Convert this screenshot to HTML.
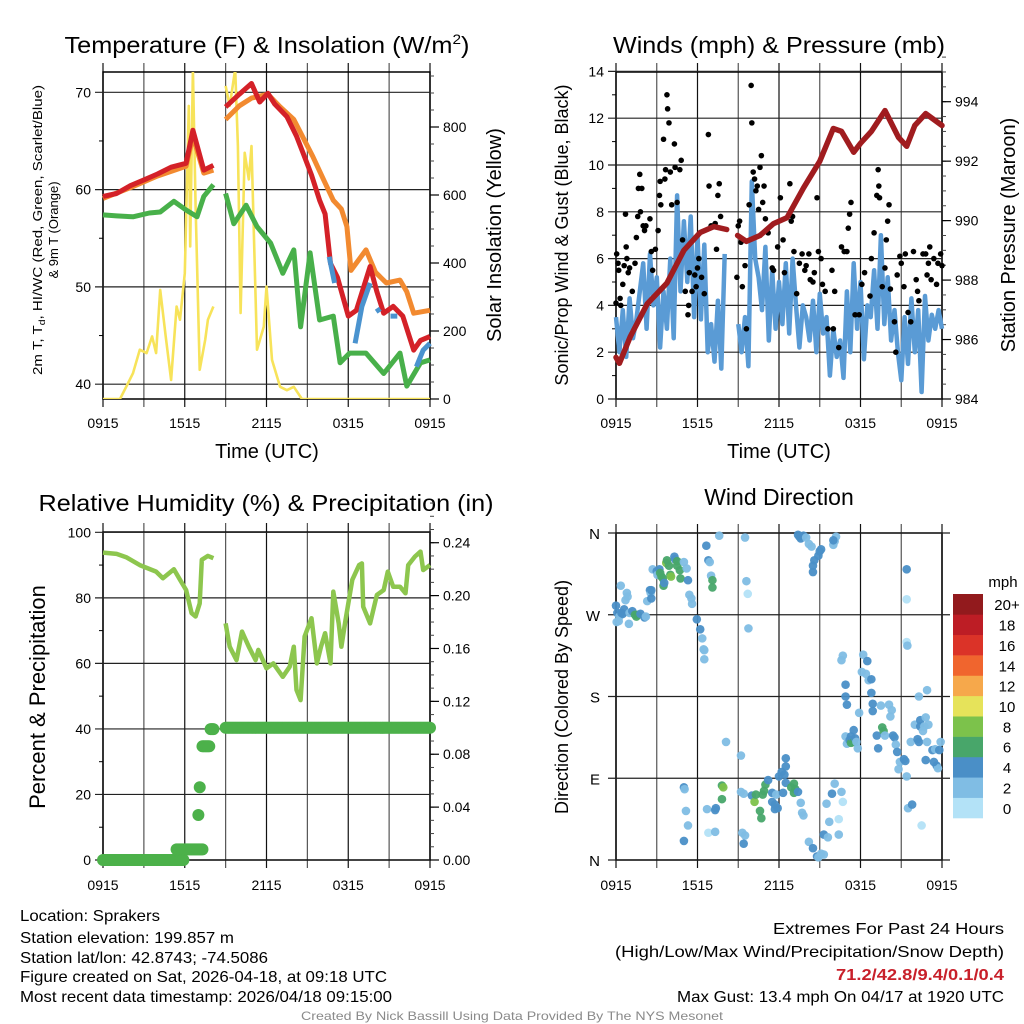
<!DOCTYPE html>
<html><head><meta charset="utf-8"><style>
html,body{margin:0;padding:0;background:#fff;}
svg{display:block;font-family:"Liberation Sans",sans-serif;}
</style></head><body>
<svg id="chart" width="1024" height="1024" viewBox="0 0 1024 1024" xmlns="http://www.w3.org/2000/svg">
<rect x="0" y="0" width="1024" height="1024" fill="#fff"/>
<g id="texts" font-family="Liberation Sans, sans-serif" fill="#000">
<text x="267" y="53" font-size="23" text-anchor="middle" textLength="405" lengthAdjust="spacingAndGlyphs">Temperature (F) &amp; Insolation (W/m<tspan font-size="14" dy="-9">2</tspan><tspan dy="9">)</tspan></text>
<text x="779" y="53" font-size="23" text-anchor="middle" textLength="332" lengthAdjust="spacingAndGlyphs">Winds (mph) &amp; Pressure (mb)</text>
<text x="266" y="511" font-size="23" text-anchor="middle" textLength="455" lengthAdjust="spacingAndGlyphs">Relative Humidity (%) &amp; Precipitation (in)</text>
<text x="779" y="505" font-size="23" text-anchor="middle">Wind Direction</text>
<text x="267" y="458" font-size="20" text-anchor="middle">Time (UTC)</text>
<text x="779" y="458" font-size="20" text-anchor="middle">Time (UTC)</text>
<text transform="translate(42,230) rotate(-90)" font-size="13" text-anchor="middle" textLength="290" lengthAdjust="spacingAndGlyphs">2m T, T<tspan font-size="9" dy="3">d</tspan><tspan dy="-3">, HI/WC (Red, Green, Scarlet/Blue)</tspan></text>
<text transform="translate(58,230) rotate(-90)" font-size="13" text-anchor="middle">&amp; 9m T (Orange)</text>
<text transform="translate(501,235) rotate(-90)" font-size="20" text-anchor="middle">Solar Insolation (Yellow)</text>
<text transform="translate(568,235) rotate(-90)" font-size="18" text-anchor="middle">Sonic/Prop Wind &amp; Gust (Blue, Black)</text>
<text transform="translate(1015,235) rotate(-90)" font-size="20" text-anchor="middle">Station Pressure (Maroon)</text>
<text transform="translate(45,697) rotate(-90)" font-size="22" text-anchor="middle">Percent &amp; Precipitation</text>
<text transform="translate(568,697) rotate(-90)" font-size="18" text-anchor="middle">Direction (Colored By Speed)</text>
<text x="20" y="921" font-size="16" textLength="140" lengthAdjust="spacingAndGlyphs">Location: Sprakers</text>
<text x="20" y="943" font-size="16" textLength="214" lengthAdjust="spacingAndGlyphs">Station elevation: 199.857 m</text>
<text x="20" y="963" font-size="16" textLength="248" lengthAdjust="spacingAndGlyphs">Station lat/lon: 42.8743; -74.5086</text>
<text x="20" y="982" font-size="16" textLength="367" lengthAdjust="spacingAndGlyphs">Figure created on Sat, 2026-04-18, at 09:18 UTC</text>
<text x="20" y="1002" font-size="16" textLength="372" lengthAdjust="spacingAndGlyphs">Most recent data timestamp: 2026/04/18 09:15:00</text>
<text x="1004" y="934" font-size="16" text-anchor="end" textLength="231" lengthAdjust="spacingAndGlyphs">Extremes For Past 24 Hours</text>
<text x="1004" y="957" font-size="16" text-anchor="end" textLength="389" lengthAdjust="spacingAndGlyphs">(High/Low/Max Wind/Precipitation/Snow Depth)</text>
<text x="1004" y="980" font-size="16" font-weight="bold" fill="#c8202a" text-anchor="end" textLength="168" lengthAdjust="spacingAndGlyphs">71.2/42.8/9.4/0.1/0.4</text>
<text x="1004" y="1002" font-size="16" text-anchor="end" textLength="327" lengthAdjust="spacingAndGlyphs">Max Gust: 13.4 mph On 04/17 at 1920 UTC</text>
<text x="512" y="1020" font-size="12" fill="#8a8a8a" text-anchor="middle" textLength="422" lengthAdjust="spacingAndGlyphs">Created By Nick Bassill Using Data Provided By The NYS Mesonet</text>
</g>
</svg>
<script>
// ---------- Panel 1 data: temperature / insolation ----------
const tempTimes = [0,1,2,3,4,5,6.1,6.6,7.4,8.1,null,9.0,10.0,10.9,11.5,12.1,12.6,13.5,14.2,14.7,15.3,15.9,16.3,16.7,17.2,18.0,18.6,19.6,20.1,20.6,21.3,22.0,22.8,23.3,24];
const tempValues = [59.3,59.6,60.4,61.0,61.6,62.3,62.7,66.1,62.0,62.5,null,68.5,69.8,70.9,69.0,69.9,68.8,67.5,65.5,63.7,61.5,58.9,57.5,52.4,51.0,47.0,47.6,52.1,49.5,47.3,48.0,47.0,43.5,44.5,44.9];
const nineMTimes = [0,2,4,6.1,6.6,7.4,8.1,null,9.0,10.0,10.9,12.1,13.0,14.0,15.4,16.2,16.9,17.5,17.9,18.2,19.3,20.0,20.8,21.8,22.3,22.8,24];
const nineMValues = [59.1,60.2,61.4,62.4,65.5,61.7,62.0,null,67.2,68.6,69.4,69.8,68.5,67.2,63.4,61.0,58.9,58.0,56.2,51.7,53.8,51.5,50.4,50.7,49.5,47.3,47.6];
const dewTimes = [0,1,2.2,3.4,4.2,5.2,6.1,6.9,7.4,8.1,null,9.0,9.6,10.5,11.3,12.3,13.2,14.0,14.5,15.2,15.9,16.9,17.4,18.1,19.3,20.6,21.8,22.3,23.3,24];
const dewValues = [57.4,57.3,57.2,57.6,57.7,58.8,57.9,57.2,59.3,60.5,null,59.6,56.5,58.4,56.2,54.5,51.4,53.8,45.9,53.5,46.6,47.0,42.2,43.2,43.2,41.1,43.2,39.8,42.2,42.5];
const hiwcTimes = [16.6,17.0,null,18.5,19.0,19.6,null,20.1,20.3,null,21.1,21.6,null,23.0,23.5,24];
const hiwcValues = [53.1,50.4,null,44.2,48.0,50.4,null,47.8,47.4,null,47.0,47.0,null,41.8,43.5,44.2];
const solarTimes = [0,1.25,1.7,2.2,2.7,3.2,3.6,3.9,4.2,4.6,5.0,5.4,5.65,6.0,6.3,6.4,6.6,6.8,7.1,7.5,7.7,8.1,null,9.0,9.3,9.7,9.9,10.1,10.4,10.7,10.9,11.3,11.8,12.0,12.4,13.0,13.5,14.0,14.6,24];
const solarValues = [0,0,36,76,145,135,184,135,321,184,56,272,233,370,862,449,970,567,86,174,233,272,null,921,862,970,744,253,724,646,744,145,213,331,115,36,26,36,0,0];
const tempTicks = [40,50,60,70];
const solarTicks = [0,200,400,600,800];
const timeTickLabels = ["0915","1515","2115","0315","0915"];

// ---------- Panel 2 data: winds / pressure ----------
const windValues = [3.5,2.0,3.8,1.8,4.3,2.6,3.4,4.6, 5.8,3.0,6.2,4.0,5.2,2.2,4.6,3.0, 6.0,2.6,8.7,4.6,7.6,5.0,7.8,3.5, 7.0,3.4,6.6,2.0,3.2,1.6,4.2,1.3, 6.2,null,null,null, 3.2,2.0,3.5,1.4, 9.3,6.0,5.2,3.8, 6.5,2.5,5.5,3.0, 5.0,3.2,5.8,2.8, 6.0,4.0,2.2,4.0, 3.5,2.5,4.2,2.0, 4.5,2.8,3.5,1.0, 3.0,1.8,2.5,0.9, 4.6,2.0,5.8,3.0, 5.0,1.7,4.0,3.5, 5.5,3.0,7.0,3.2, 5.2,2.5,3.8,2.0, 0.8,3.5,1.5,4.3, 2.0,3.8,0.3,4.4, 2.5,3.6,3.0,3.8, 3.0];
const windStepHours = 0.25;
const gustTimes = [0.0,0.05,0.15,0.2,0.3,0.35,0.5,0.6,0.7,0.75,0.8,0.9,1.0,1.2,1.4,1.5,1.6,1.65,1.75,1.8,1.9,2.0,2.1,2.2,2.5,2.6,2.7,2.9,3.1,3.2,3.25,3.3,3.5,3.6,3.65,3.75,3.8,3.9,4.0,4.1,4.3,4.35,4.5,4.7,4.8,4.9,5.1,5.3,5.35,5.4,5.6,5.8,5.9,6.0,6.1,6.3,6.5,6.8,6.85,7.0,7.3,7.4,7.5,7.6,7.7,8.9,9.0,9.1,9.2,9.3,9.5,9.6,9.8,9.95,10.0,10.1,10.2,10.3,10.4,10.5,10.6,10.7,10.8,10.9,11.0,11.2,11.5,11.6,11.9,12.1,12.3,12.4,12.8,12.9,13.0,13.1,13.3,13.5,13.7,13.9,14.0,14.2,14.3,14.5,14.6,14.8,14.9,15.1,15.2,15.4,15.6,15.9,16.0,16.1,16.4,16.6,16.8,17.0,17.1,17.2,17.3,17.6,17.9,18.1,18.3,18.7,18.8,19.0,19.2,19.3,19.35,19.4,19.6,19.8,19.9,20.0,20.1,20.2,20.5,20.6,20.7,20.9,21.0,21.2,21.3,21.5,21.7,21.9,22.1,22.2,22.3,22.6,22.8,22.9,23.0,23.1,23.2,23.4,23.6,23.7,23.9,24.0];
const gustValues = [4.1,6.2,5.8,5.5,4.3,4.0,4.9,5.7,7.9,6.5,6.0,5.4,5.6,4.6,5.8,6.9,7.8,9.0,9.6,8.0,9.0,7.4,7.2,7.4,7.7,6.3,5.5,6.4,7.2,8.7,9.3,8.3,11.1,9.4,9.8,13.0,12.4,11.8,9.7,8.3,10.9,9.9,8.4,9.8,10.2,6.8,4.6,3.6,4.0,5.4,4.6,5.3,4.8,5.6,6.0,5.2,4.5,11.3,9.1,7.4,7.5,6.4,8.7,9.2,7.8,5.2,7.4,7.6,6.7,4.8,5.7,3.0,8.3,13.4,11.8,9.7,9.4,8.9,9.1,8.1,9.9,10.4,8.4,9.1,7.7,7.1,5.6,5.5,6.5,8.6,6.8,5.4,9.2,7.6,7.8,6.3,4.5,5.8,6.2,5.5,5.7,6.2,5.1,5.0,5.4,8.6,6.3,6.0,4.9,4.6,3.0,5.5,3.0,4.6,2.2,6.5,6.3,6.3,7.3,7.9,8.4,3.6,3.6,4.9,5.4,4.4,6.0,7.1,8.7,9.8,9.1,8.6,4.8,5.6,6.8,7.6,8.3,4.7,3.3,2.0,5.3,6.1,5.8,4.8,6.2,3.7,3.3,6.3,5.1,4.6,4.2,6.2,6.2,5.3,5.8,6.5,5.1,6.0,4.9,5.8,6.2,5.7];
const pressTimes = [0,0.25,1.05,2.3,3.75,5.0,6.2,7.2,8.15,null,8.95,9.6,10.6,11.6,12.6,13.8,15.0,16.0,16.6,17.5,18.0,18.8,19.8,20.8,21.4,22.0,22.8,24];
const pressValues = [985.4,985.2,986.1,987.2,987.9,989.0,989.6,989.8,989.7,null,989.5,989.3,989.5,989.9,990.1,991.1,992.0,993.1,993.0,992.3,992.6,993.0,993.7,992.8,992.5,993.2,993.6,993.2];
const windTicks = [0,2,4,6,8,10,12,14];
const pressTicks = [984,986,988,990,992,994];

// ---------- Panel 3 data: RH / precipitation ----------
const rhTimes = [0,1.0,1.7,2.7,3.9,4.4,5.2,5.65,6.1,6.5,6.8,7.1,7.25,7.7,8.1,null,9.0,9.3,9.8,10.2,10.7,11.2,11.4,12.0,12.5,13.2,13.7,14.0,14.2,14.5,14.8,15.3,15.7,16.0,16.3,16.7,16.9,17.3,17.5,17.8,18.3,18.8,19.0,19.1,19.6,20.1,20.6,20.9,21.3,21.8,22.2,22.4,22.9,23.3,23.5,24];
const rhValues = [93.8,93.4,92.4,90.0,88.0,86.0,88.7,85.5,82.4,75.3,74.3,78.3,91.6,92.8,92.1,null,72.2,65.1,61.0,69.7,65.1,61.0,64.1,58.5,60.0,55.9,59.0,65.1,51.9,48.8,68.2,73.8,60.0,65.1,69.2,60.0,81.9,72.2,65.1,73.2,85.5,90.0,90.5,77.3,72.2,80.9,82.4,88.0,83.4,83.4,81.4,90.0,92.6,94.1,88.5,90.0];
const precipRunStart = [0,5.4,7.0,7.1,7.3,7.9,9.0];
const precipRunEnd = [5.9,7.3,7.0,7.15,7.8,8.1,24];
const precipRunValue = [0.0,0.008,0.034,0.055,0.086,0.099,0.1];
const rhTicks = [0,20,40,60,80,100];
const precipTicks = [0,0.04,0.08,0.12,0.16,0.20,0.24];

// ---------- Panel 4 data: wind direction ----------
const dirTimes = [0,0.05,0.1,0.2,0.25,0.35,0.4,0.5,0.6,0.7,0.8,0.85,0.95,1.0,1.2,1.4,1.5,1.6,1.8,2.1,2.2,2.3,2.5,2.55,2.6,2.6,2.7,3.0,3.05,3.2,3.25,3.35,3.45,3.5,3.55,3.7,3.75,3.9,4.0,4.05,4.3,4.35,4.5,4.5,4.7,4.75,5.0,5.2,5.3,5.4,5.55,5.6,5.95,6.2,6.35,6.5,6.45,6.5,6.65,6.8,6.9,7.0,7.1,7.1,7.6,8.1,9.5,9.6,9.7,9.75,
5.0,5.05,5.15,5.3,5.0,6.7,6.8,7.3,7.35,7.3,7.8,7.9,7.8,9.2,9.2,9.4,9.3,9.5,9.4,10.0,10.2,10.3,10.6,10.7,10.8,10.9,11.0,11.2,11.5,11.5,11.7,11.8,11.7,11.9,12.0,12.2,12.4,12.5,12.5,12.3,12.5,12.9,13.1,13.2,13.1,13.4,13.6,13.7,13.8,14.2,14.5,14.8,14.9,15.1,15.3,15.3,15.5,15.6,15.7,15.9,16.1,16.4,16.4,16.6,16.7,
13.4,13.5,13.6,13.8,14.0,14.2,14.4,14.5,14.5,14.6,14.9,15.0,15.1,16.0,16.2,16.1,16.0,
16.6,16.7,16.9,16.9,17.0,16.9,17.0,17.2,17.3,17.3,17.5,17.6,17.5,17.7,17.8,17.9,18.2,18.1,18.4,18.5,18.6,18.8,18.8,18.9,18.9,19.5,19.2,19.3,19.6,19.7,19.8,20.1,20.3,20.2,20.4,20.5,20.6,20.7,20.8,20.9,21.2,21.3,21.4,21.5,21.4,21.4,21.4,21.45,21.7,22.0,22.3,22.4,22.4,22.2,22.3,22.7,22.6,22.8,22.9,23.0,22.9,23.3,23.5,23.6,23.7,23.8,23.9,22.5,21.8,22.8,23.4];
const dirValues = [280,262,272,263,268,302,272,271,276,286,294,290,260,272,274,270,268,270,271,267,268,285,297,294,297,288,320,318,314,320,316,312,310,302,305,327,330,324,314,312,334,331,324,329,319,310,328,321,308,292,288,282,265,254,244,231,232,221,346,330,328,313,308,300,357,130,355,307,293,255,
80,78,54,38,21,56,30,55,57,31,82,80,67,115,75,73,30,27,18,71,64,72,54,46,72,76,83,88,74,64,61,72,56,57,92,97,94,112,103,74,85,80,84,78,74,75,63,52,49,20,13,4,3,7,6,28,62,25,42,73,84,28,45,75,64,
358,356,354,357,355,348,345,317,324,330,335,340,342,347,356,351,352,
220,225,193,180,171,136,128,132,129,136,130,134,143,130,123,162,226,207,205,219,198,199,184,172,164,170,137,123,146,142,137,171,165,158,137,135,127,119,100,108,111,109,92,57,320,287,240,236,130,149,180,154,147,133,130,147,142,157,187,149,130,121,122,104,101,121,130,38,61,110,108];
const dirSpeeds = [4,3,4,2,3,2,4,4,4,3,2,3,2,3,4,6,6,6,4,4,3,3,4,3,4,4,2,4,3,5,6,6,6,6,5,8,6,6,7,8,4,4,6,6,6,6,2,2,4,3,3,3,4,4,3,2,2,2,4,4,2,2,6,6,2,3,2,2,1,2,
4,2,2,2,4,2,1,4,4,2,6,8,6,3,3,2,3,3,4,4,8,6,6,6,6,6,6,4,4,4,4,2,4,4,4,4,4,4,4,4,4,6,6,6,6,4,2,2,2,2,4,4,3,2,2,4,2,2,2,4,2,2,1,2,1,
4,4,4,4,3,2,2,4,4,4,4,4,4,2,2,2,4,
2,2,4,4,4,2,2,4,6,4,6,4,4,2,2,2,2,2,2,4,2,4,4,4,4,2,4,4,6,6,2,2,2,2,4,4,2,4,2,2,4,4,2,2,4,1,1,2,2,2,2,4,4,4,4,2,2,2,2,2,2,4,2,4,3,4,2,1,4,4,4];
const dirTickLabels = ["N","E","S","W","N"];
const dirTickValues = [0,90,180,270,360];
const speedBinLabels = ["0","2","4","6","8","10","12","14","16","18","20+"];
const speedBinColors = ["#b3e2f7","#80bde4","#4a8fc7","#48a66a","#7cc24b","#e6e35a","#f6a84b","#f0652e","#db3328","#bd1d25","#921a1d"];

// ---------- helpers ----------
const NS = "http://www.w3.org/2000/svg";
const svg = document.getElementById("chart");
function mk(tag, attrs, parent) {
  const e = document.createElementNS(NS, tag);
  for (const k in attrs) e.setAttribute(k, attrs[k]);
  (parent || svg).appendChild(e);
  return e;
}
function pathFrom(xs, ys, fx, fy) {
  let d = "", pen = false;
  for (let i = 0; i < xs.length; i++) {
    if (xs[i] === null || ys[i] === null) { pen = false; continue; }
    d += (pen ? "L" : "M") + fx(xs[i]).toFixed(1) + "," + fy(ys[i]).toFixed(1);
    pen = true;
  }
  return d;
}
const gridTimes = [0,3,6,9,12,15,18,21,24];

function frame(name, L, T, R, B, labelOff) {
  const g = mk("g", {});
  
  
  for (let i = 0; i < gridTimes.length; i++) {
    const x = L + gridTimes[i] / 24 * (R - L);
    const ln = mk("line", {x1:x, x2:x, y1:T-9, y2:B+8, stroke:(i%2?"#555":"#111"), "stroke-width":1.2}, g);
    
    
  }
  for (let i = 0; i < timeTickLabels.length; i++) {
    const x = L + i * 6 / 24 * (R - L);
    const t = mk("text", {x:x, y:B+labelOff, "font-size":14, "text-anchor":"middle"}, g);
    t.textContent = timeTickLabels[i];
    
    
  }
  mk("rect", {x:L, y:T, width:R-L, height:B-T, fill:"none", stroke:"#000", "stroke-width":1.5}, g);
  return g;
}
function leftTicks(g, ticks, fy, L, R, fmt, grid) {
  for (let i = 0; i < ticks.length; i++) {
    const y = fy(ticks[i]);
    const ln = mk("line", {x1:L-8, x2:grid?R:L, y1:y, y2:y, stroke:"#222", "stroke-width":1.2}, g);
    
    
    const t = mk("text", {x:L-12, y:y+5, "font-size":14, "text-anchor":"end"}, g);
    t.textContent = fmt(ticks[i]);
    
    
  }
}
function rightTicks(g, ticks, minorStep, fy, R, fmt) {
  const lo = ticks[0], hi = ticks[ticks.length-1] + minorStep * 3;
  for (let v = lo; v <= hi + 1e-9; v += minorStep) {
    const y = fy(v);
    if (y < fy(hi) - 0.1) break;
    mk("line", {x1:R, x2:R+4, y1:y, y2:y, stroke:"#444", "stroke-width":1}, g);
  }
  for (let i = 0; i < ticks.length; i++) {
    const y = fy(ticks[i]);
    mk("line", {x1:R, x2:R+9, y1:y, y2:y, stroke:"#000", "stroke-width":1.2}, g);
    const t = mk("text", {x:R+13, y:y+5, "font-size":14}, g);
    t.textContent = fmt(ticks[i]);
    
    
  }
}

// ---------- Panel 1 ----------
(function(){
  const L=103,R=430,T=72,B=399;
  const x = t => L + t/24*(R-L);
  const y = f => 92.3 + (70-f)*9.73;
  const ys = w => B - w*0.34;
  const g = frame("temperature-panel", L, T, R, B, 29);
  leftTicks(g, tempTicks, y, L, R, v=>String(v), true);
  for (const v of [45,55,65]) mk("line",{x1:L-4,x2:L,y1:y(v),y2:y(v),stroke:"#000"},g);
  rightTicks(g, solarTicks, 50, ys, R, v=>String(v));
  const clip = mk("clipPath",{id:"c1"}); mk("rect",{x:L,y:T,width:R-L,height:B-T},clip);
  const solar = mk("path",{d:pathFrom(solarTimes,solarValues,x,ys),fill:"none",stroke:"#f7e35a","stroke-width":2.6,"stroke-linejoin":"round","clip-path":"url(#c1)"},g);
  
  
  const dew = mk("path",{d:pathFrom(dewTimes,dewValues,x,y),fill:"none",stroke:"#48b04a","stroke-width":5,"stroke-linejoin":"round"},g);
  
  
  const t9 = mk("path",{d:pathFrom(nineMTimes,nineMValues,x,y),fill:"none",stroke:"#f28a30","stroke-width":5,"stroke-linejoin":"round"},g);
  
  
  const t2 = mk("path",{d:pathFrom(tempTimes,tempValues,x,y),fill:"none",stroke:"#d42128","stroke-width":5,"stroke-linejoin":"round"},g);
  
  
  const hw = mk("path",{d:pathFrom(hiwcTimes,hiwcValues,x,y),fill:"none",stroke:"#4a93cf","stroke-width":5,"stroke-linejoin":"round"},g);
  
  
})();

// ---------- Panel 2 ----------
(function(){
  const L=616,R=942,T=72,B=399;
  const x = t => L + t/24*(R-L);
  const y = m => B - m*23.4;
  const yp = p => B - (p-984)*29.73;
  const g = frame("winds-panel", L, T, R, B, 29);
  leftTicks(g, windTicks, y, L, R, v=>String(v), true);
  for (let v=1; v<14; v+=2) mk("line",{x1:L-4,x2:L,y1:y(v),y2:y(v),stroke:"#000"},g);
  rightTicks(g, pressTicks, 0.5, yp, R, v=>String(v));
  const windT = windValues.map((v,i)=>i*windStepHours);
  const wl = mk("path",{d:pathFrom(windT,windValues,x,y),fill:"none",stroke:"#5a9bd5","stroke-width":4.5,"stroke-linejoin":"round"},g);
  
  
  const gg = mk("g",{},g);
  
  
  for (let i=0;i<gustTimes.length;i++){
    const c = mk("circle",{cx:x(gustTimes[i]),cy:y(gustValues[i]),r:2.8,fill:"#000"},gg);
    
    
  }
  const pl = mk("path",{d:pathFrom(pressTimes,pressValues,x,yp),fill:"none",stroke:"#a01c1f","stroke-width":5.5,"stroke-linejoin":"round","stroke-linecap":"round"},g);
  
  
})();

// ---------- Panel 3 ----------
(function(){
  const L=103,R=430,T=532,B=860;
  const x = t => L + t/24*(R-L);
  const y = r => B - r*3.277;
  const yi = v => B - v*1322;
  const g = frame("humidity-panel", L, T, R, B, 30);
  leftTicks(g, rhTicks, y, L, R, v=>String(v), true);
  for (let v=10; v<100; v+=20) mk("line",{x1:L-4,x2:L,y1:y(v),y2:y(v),stroke:"#000"},g);
  rightTicks(g, precipTicks, 0.01, yi, R, v=>v.toFixed(2));
  const rl = mk("path",{d:pathFrom(rhTimes,rhValues,x,y),fill:"none",stroke:"#8dc64e","stroke-width":4.5,"stroke-linejoin":"round"},g);
  
  
  const pg = mk("g",{},g);
  
  
  for (let k=0;k<precipRunStart.length;k++){
    for (let t=precipRunStart[k]; t<=precipRunEnd[k]+1e-9; t+=0.1){
      const c = mk("circle",{cx:x(t),cy:yi(precipRunValue[k]),r:6,fill:"#4cb14a"},pg);
      
      
    }
  }
})();

// ---------- Panel 4 ----------
(function(){
  const L=616,R=942,T=533,B=860;
  const x = t => L + t/24*(R-L);
  const y = d => B - d*(B-T)/360;
  const g = frame("wind-direction-panel", L, T, R, B, 30);
  for (let i=0;i<dirTickValues.length;i++){
    const yy = y(dirTickValues[i]);
    mk("line",{x1:L-8,x2:R+8,y1:yy,y2:yy,stroke:"#222","stroke-width":1.2},g);
    const t = mk("text",{x:L-16,y:yy+6,"font-size":15,"text-anchor":"end"},g);
    t.textContent = dirTickLabels[i];
    
    
  }
  const dg = mk("g",{},g);
  
  
  for (let i=0;i<dirTimes.length;i++){
    const bin = Math.min(10, Math.floor(dirSpeeds[i]/2));
    const c = mk("circle",{cx:x(dirTimes[i]),cy:y(dirValues[i]),r:4.3,fill:speedBinColors[bin],"fill-opacity":0.95},dg);
    
    
  }
  const cb = mk("g",{});
  
  
  const cbTop=594, cbH=224/11;
  for (let i=0;i<speedBinColors.length;i++){
    const yy = cbTop + (10-i)*cbH;
    const r = mk("rect",{x:953,y:yy,width:30,height:cbH+0.3,fill:speedBinColors[i]},cb);
    
    
    const t = mk("text",{x:1007,y:yy+cbH/2+6,"font-size":15,"text-anchor":"middle"},cb);
    t.textContent = speedBinLabels[i];
    
    
  }
  const u = mk("text",{x:1003,y:587,"font-size":15,"text-anchor":"middle"},cb);
  u.textContent = "mph";
  
  
})();
</script>
</body></html>
